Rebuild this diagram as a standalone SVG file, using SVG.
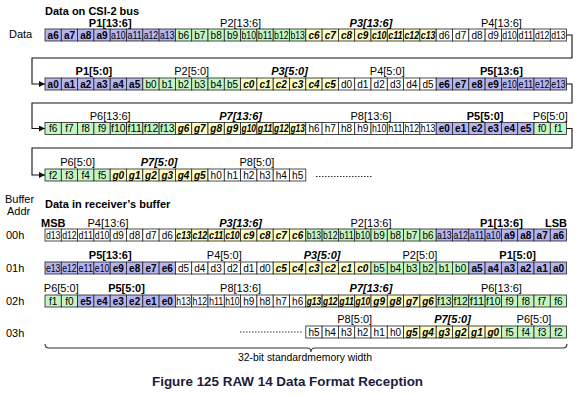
<svg xmlns="http://www.w3.org/2000/svg" width="583" height="395" viewBox="0 0 583 395">
<defs>
<style>
text{font-family:"Liberation Sans",Arial,sans-serif;fill:#000}
.cell rect{stroke:#222;stroke-width:0.8}
.B{fill:#b4b4f0}.G{fill:#c2f5c2}.Y{fill:#fbfbc2}.W{fill:#fff}
.cell text{font-size:10px;text-anchor:middle}
.b{font-weight:bold}.bi{font-weight:bold;font-style:italic}
.lab{font-size:11px;text-anchor:middle}
.hd{font-size:11px;font-weight:bold}
.side{font-size:11px}
.con{fill:none;stroke:#111;stroke-width:1.1}
.dot{fill:none;stroke:#333;stroke-width:1;stroke-dasharray:1.5 1.5}
</style>
<marker id="ah" viewBox="0 0 6 6" refX="6" refY="3" markerWidth="6" markerHeight="6" orient="auto" markerUnits="userSpaceOnUse"><path d="M0,0 L6,3 L0,6 Z" fill="#111"/></marker>
</defs>
<rect width="583" height="395" fill="#fff"/>

<text class="hd" x="45" y="14.5">Data on CSI-2 bus</text>
<text class="side" x="9" y="38">Data</text>

<g id="labels-row1">
<text class="lab b" x="110.2" y="27">P1[13:6]</text>
<text class="lab" x="240.6" y="27">P2[13:6]</text>
<text class="lab bi" x="371" y="27">P3[13:6]</text>
<text class="lab" x="501.4" y="27">P4[13:6]</text>
</g>
<g id="row1" class="cell" transform="translate(0,29)">
<rect class="B" x="45" y="0" width="16.3" height="12"/><text class="b" x="53.15" y="9.5">a6</text>
<rect class="B" x="61.3" y="0" width="16.3" height="12"/><text class="b" x="69.45" y="9.5">a7</text>
<rect class="B" x="77.6" y="0" width="16.3" height="12"/><text class="b" x="85.75" y="9.5">a8</text>
<rect class="B" x="93.9" y="0" width="16.3" height="12"/><text class="b" x="102.05" y="9.5">a9</text>
<rect class="B" x="110.2" y="0" width="16.3" height="12"/><text x="118.35" y="9.5" textLength="14.5" lengthAdjust="spacingAndGlyphs">a10</text>
<rect class="B" x="126.5" y="0" width="16.3" height="12"/><text x="134.65" y="9.5" textLength="14.5" lengthAdjust="spacingAndGlyphs">a11</text>
<rect class="B" x="142.8" y="0" width="16.3" height="12"/><text x="150.95" y="9.5" textLength="14.5" lengthAdjust="spacingAndGlyphs">a12</text>
<rect class="B" x="159.1" y="0" width="16.3" height="12"/><text x="167.25" y="9.5" textLength="14.5" lengthAdjust="spacingAndGlyphs">a13</text>
<rect class="G" x="175.4" y="0" width="16.3" height="12"/><text x="183.55" y="9.5">b6</text>
<rect class="G" x="191.7" y="0" width="16.3" height="12"/><text x="199.85" y="9.5">b7</text>
<rect class="G" x="208" y="0" width="16.3" height="12"/><text x="216.15" y="9.5">b8</text>
<rect class="G" x="224.3" y="0" width="16.3" height="12"/><text x="232.45" y="9.5">b9</text>
<rect class="G" x="240.6" y="0" width="16.3" height="12"/><text x="248.75" y="9.5" textLength="14.5" lengthAdjust="spacingAndGlyphs">b10</text>
<rect class="G" x="256.9" y="0" width="16.3" height="12"/><text x="265.05" y="9.5" textLength="14.5" lengthAdjust="spacingAndGlyphs">b11</text>
<rect class="G" x="273.2" y="0" width="16.3" height="12"/><text x="281.35" y="9.5" textLength="14.5" lengthAdjust="spacingAndGlyphs">b12</text>
<rect class="G" x="289.5" y="0" width="16.3" height="12"/><text x="297.65" y="9.5" textLength="14.5" lengthAdjust="spacingAndGlyphs">b13</text>
<rect class="Y" x="305.8" y="0" width="16.3" height="12"/><text class="bi" x="313.95" y="9.5">c6</text>
<rect class="Y" x="322.1" y="0" width="16.3" height="12"/><text class="bi" x="330.25" y="9.5">c7</text>
<rect class="Y" x="338.4" y="0" width="16.3" height="12"/><text class="bi" x="346.55" y="9.5">c8</text>
<rect class="Y" x="354.7" y="0" width="16.3" height="12"/><text class="bi" x="362.85" y="9.5">c9</text>
<rect class="Y" x="371" y="0" width="16.3" height="12"/><text class="bi" x="379.15" y="9.5" textLength="14.5" lengthAdjust="spacingAndGlyphs">c10</text>
<rect class="Y" x="387.3" y="0" width="16.3" height="12"/><text class="bi" x="395.45" y="9.5" textLength="14.5" lengthAdjust="spacingAndGlyphs">c11</text>
<rect class="Y" x="403.6" y="0" width="16.3" height="12"/><text class="bi" x="411.75" y="9.5" textLength="14.5" lengthAdjust="spacingAndGlyphs">c12</text>
<rect class="Y" x="419.9" y="0" width="16.3" height="12"/><text class="bi" x="428.05" y="9.5" textLength="14.5" lengthAdjust="spacingAndGlyphs">c13</text>
<rect class="W" x="436.2" y="0" width="16.3" height="12"/><text x="444.35" y="9.5">d6</text>
<rect class="W" x="452.5" y="0" width="16.3" height="12"/><text x="460.65" y="9.5">d7</text>
<rect class="W" x="468.8" y="0" width="16.3" height="12"/><text x="476.95" y="9.5">d8</text>
<rect class="W" x="485.1" y="0" width="16.3" height="12"/><text x="493.25" y="9.5">d9</text>
<rect class="W" x="501.4" y="0" width="16.3" height="12"/><text x="509.55" y="9.5" textLength="14.5" lengthAdjust="spacingAndGlyphs">d10</text>
<rect class="W" x="517.7" y="0" width="16.3" height="12"/><text x="525.85" y="9.5" textLength="14.5" lengthAdjust="spacingAndGlyphs">d11</text>
<rect class="W" x="534" y="0" width="16.3" height="12"/><text x="542.15" y="9.5" textLength="14.5" lengthAdjust="spacingAndGlyphs">d12</text>
<rect class="W" x="550.3" y="0" width="16.3" height="12"/><text x="558.45" y="9.5" textLength="14.5" lengthAdjust="spacingAndGlyphs">d13</text>
</g>

<g id="labels-row2">
<text class="lab b" x="93.9" y="75">P1[5:0]</text>
<text class="lab" x="191.7" y="75">P2[5:0]</text>
<text class="lab bi" x="289.5" y="75">P3[5:0]</text>
<text class="lab" x="387.3" y="75">P4[5:0]</text>
<text class="lab b" x="501.4" y="75">P5[13:6]</text>
</g>
<g id="row2" class="cell" transform="translate(0,78)">
<rect class="B" x="45" y="0" width="16.3" height="12"/><text class="b" x="53.15" y="9.5">a0</text>
<rect class="B" x="61.3" y="0" width="16.3" height="12"/><text class="b" x="69.45" y="9.5">a1</text>
<rect class="B" x="77.6" y="0" width="16.3" height="12"/><text class="b" x="85.75" y="9.5">a2</text>
<rect class="B" x="93.9" y="0" width="16.3" height="12"/><text class="b" x="102.05" y="9.5">a3</text>
<rect class="B" x="110.2" y="0" width="16.3" height="12"/><text class="b" x="118.35" y="9.5">a4</text>
<rect class="B" x="126.5" y="0" width="16.3" height="12"/><text class="b" x="134.65" y="9.5">a5</text>
<rect class="G" x="142.8" y="0" width="16.3" height="12"/><text x="150.95" y="9.5">b0</text>
<rect class="G" x="159.1" y="0" width="16.3" height="12"/><text x="167.25" y="9.5">b1</text>
<rect class="G" x="175.4" y="0" width="16.3" height="12"/><text x="183.55" y="9.5">b2</text>
<rect class="G" x="191.7" y="0" width="16.3" height="12"/><text x="199.85" y="9.5">b3</text>
<rect class="G" x="208" y="0" width="16.3" height="12"/><text x="216.15" y="9.5">b4</text>
<rect class="G" x="224.3" y="0" width="16.3" height="12"/><text x="232.45" y="9.5">b5</text>
<rect class="Y" x="240.6" y="0" width="16.3" height="12"/><text class="bi" x="248.75" y="9.5">c0</text>
<rect class="Y" x="256.9" y="0" width="16.3" height="12"/><text class="bi" x="265.05" y="9.5">c1</text>
<rect class="Y" x="273.2" y="0" width="16.3" height="12"/><text class="bi" x="281.35" y="9.5">c2</text>
<rect class="Y" x="289.5" y="0" width="16.3" height="12"/><text class="bi" x="297.65" y="9.5">c3</text>
<rect class="Y" x="305.8" y="0" width="16.3" height="12"/><text class="bi" x="313.95" y="9.5">c4</text>
<rect class="Y" x="322.1" y="0" width="16.3" height="12"/><text class="bi" x="330.25" y="9.5">c5</text>
<rect class="W" x="338.4" y="0" width="16.3" height="12"/><text x="346.55" y="9.5">d0</text>
<rect class="W" x="354.7" y="0" width="16.3" height="12"/><text x="362.85" y="9.5">d1</text>
<rect class="W" x="371" y="0" width="16.3" height="12"/><text x="379.15" y="9.5">d2</text>
<rect class="W" x="387.3" y="0" width="16.3" height="12"/><text x="395.45" y="9.5">d3</text>
<rect class="W" x="403.6" y="0" width="16.3" height="12"/><text x="411.75" y="9.5">d4</text>
<rect class="W" x="419.9" y="0" width="16.3" height="12"/><text x="428.05" y="9.5">d5</text>
<rect class="B" x="436.2" y="0" width="16.3" height="12"/><text class="b" x="444.35" y="9.5">e6</text>
<rect class="B" x="452.5" y="0" width="16.3" height="12"/><text class="b" x="460.65" y="9.5">e7</text>
<rect class="B" x="468.8" y="0" width="16.3" height="12"/><text class="b" x="476.95" y="9.5">e8</text>
<rect class="B" x="485.1" y="0" width="16.3" height="12"/><text class="b" x="493.25" y="9.5">e9</text>
<rect class="B" x="501.4" y="0" width="16.3" height="12"/><text x="509.55" y="9.5" textLength="14.5" lengthAdjust="spacingAndGlyphs">e10</text>
<rect class="B" x="517.7" y="0" width="16.3" height="12"/><text x="525.85" y="9.5" textLength="14.5" lengthAdjust="spacingAndGlyphs">e11</text>
<rect class="B" x="534" y="0" width="16.3" height="12"/><text x="542.15" y="9.5" textLength="14.5" lengthAdjust="spacingAndGlyphs">e12</text>
<rect class="B" x="550.3" y="0" width="16.3" height="12"/><text x="558.45" y="9.5" textLength="14.5" lengthAdjust="spacingAndGlyphs">e13</text>
</g>

<g id="labels-row3">
<text class="lab" x="110.2" y="119.5">P6[13:6]</text>
<text class="lab bi" x="240.6" y="119.5">P7[13:6]</text>
<text class="lab" x="371" y="119.5">P8[13:6]</text>
<text class="lab b" x="485.1" y="119.5">P5[5:0]</text>
<text class="lab" x="550.3" y="119.5">P6[5:0]</text>
</g>
<g id="row3" class="cell" transform="translate(0,122.5)">
<rect class="G" x="45" y="0" width="16.3" height="12"/><text x="53.15" y="9.5">f6</text>
<rect class="G" x="61.3" y="0" width="16.3" height="12"/><text x="69.45" y="9.5">f7</text>
<rect class="G" x="77.6" y="0" width="16.3" height="12"/><text x="85.75" y="9.5">f8</text>
<rect class="G" x="93.9" y="0" width="16.3" height="12"/><text x="102.05" y="9.5">f9</text>
<rect class="G" x="110.2" y="0" width="16.3" height="12"/><text x="118.35" y="9.5" textLength="14.5" lengthAdjust="spacingAndGlyphs">f10</text>
<rect class="G" x="126.5" y="0" width="16.3" height="12"/><text x="134.65" y="9.5" textLength="14.5" lengthAdjust="spacingAndGlyphs">f11</text>
<rect class="G" x="142.8" y="0" width="16.3" height="12"/><text x="150.95" y="9.5" textLength="14.5" lengthAdjust="spacingAndGlyphs">f12</text>
<rect class="G" x="159.1" y="0" width="16.3" height="12"/><text x="167.25" y="9.5" textLength="14.5" lengthAdjust="spacingAndGlyphs">f13</text>
<rect class="Y" x="175.4" y="0" width="16.3" height="12"/><text class="bi" x="183.55" y="9.5">g6</text>
<rect class="Y" x="191.7" y="0" width="16.3" height="12"/><text class="bi" x="199.85" y="9.5">g7</text>
<rect class="Y" x="208" y="0" width="16.3" height="12"/><text class="bi" x="216.15" y="9.5">g8</text>
<rect class="Y" x="224.3" y="0" width="16.3" height="12"/><text class="bi" x="232.45" y="9.5">g9</text>
<rect class="Y" x="240.6" y="0" width="16.3" height="12"/><text class="bi" x="248.75" y="9.5" textLength="14.5" lengthAdjust="spacingAndGlyphs">g10</text>
<rect class="Y" x="256.9" y="0" width="16.3" height="12"/><text class="bi" x="265.05" y="9.5" textLength="14.5" lengthAdjust="spacingAndGlyphs">g11</text>
<rect class="Y" x="273.2" y="0" width="16.3" height="12"/><text class="bi" x="281.35" y="9.5" textLength="14.5" lengthAdjust="spacingAndGlyphs">g12</text>
<rect class="Y" x="289.5" y="0" width="16.3" height="12"/><text class="bi" x="297.65" y="9.5" textLength="14.5" lengthAdjust="spacingAndGlyphs">g13</text>
<rect class="W" x="305.8" y="0" width="16.3" height="12"/><text x="313.95" y="9.5">h6</text>
<rect class="W" x="322.1" y="0" width="16.3" height="12"/><text x="330.25" y="9.5">h7</text>
<rect class="W" x="338.4" y="0" width="16.3" height="12"/><text x="346.55" y="9.5">h8</text>
<rect class="W" x="354.7" y="0" width="16.3" height="12"/><text x="362.85" y="9.5">h9</text>
<rect class="W" x="371" y="0" width="16.3" height="12"/><text x="379.15" y="9.5" textLength="14.5" lengthAdjust="spacingAndGlyphs">h10</text>
<rect class="W" x="387.3" y="0" width="16.3" height="12"/><text x="395.45" y="9.5" textLength="14.5" lengthAdjust="spacingAndGlyphs">h11</text>
<rect class="W" x="403.6" y="0" width="16.3" height="12"/><text x="411.75" y="9.5" textLength="14.5" lengthAdjust="spacingAndGlyphs">h12</text>
<rect class="W" x="419.9" y="0" width="16.3" height="12"/><text x="428.05" y="9.5" textLength="14.5" lengthAdjust="spacingAndGlyphs">h13</text>
<rect class="B" x="436.2" y="0" width="16.3" height="12"/><text class="b" x="444.35" y="9.5">e0</text>
<rect class="B" x="452.5" y="0" width="16.3" height="12"/><text class="b" x="460.65" y="9.5">e1</text>
<rect class="B" x="468.8" y="0" width="16.3" height="12"/><text class="b" x="476.95" y="9.5">e2</text>
<rect class="B" x="485.1" y="0" width="16.3" height="12"/><text class="b" x="493.25" y="9.5">e3</text>
<rect class="B" x="501.4" y="0" width="16.3" height="12"/><text class="b" x="509.55" y="9.5">e4</text>
<rect class="B" x="517.7" y="0" width="16.3" height="12"/><text class="b" x="525.85" y="9.5">e5</text>
<rect class="G" x="534" y="0" width="16.3" height="12"/><text x="542.15" y="9.5">f0</text>
<rect class="G" x="550.3" y="0" width="16.3" height="12"/><text x="558.45" y="9.5">f1</text>
</g>

<g id="labels-row4">
<text class="lab" x="77.6" y="166">P6[5:0]</text>
<text class="lab bi" x="159.1" y="166">P7[5:0]</text>
<text class="lab" x="256.9" y="166">P8[5:0]</text>
</g>
<g id="row4" class="cell" transform="translate(0,169)">
<rect class="G" x="45" y="0" width="16.3" height="12"/><text x="53.15" y="9.5">f2</text>
<rect class="G" x="61.3" y="0" width="16.3" height="12"/><text x="69.45" y="9.5">f3</text>
<rect class="G" x="77.6" y="0" width="16.3" height="12"/><text x="85.75" y="9.5">f4</text>
<rect class="G" x="93.9" y="0" width="16.3" height="12"/><text x="102.05" y="9.5">f5</text>
<rect class="Y" x="110.2" y="0" width="16.3" height="12"/><text class="bi" x="118.35" y="9.5">g0</text>
<rect class="Y" x="126.5" y="0" width="16.3" height="12"/><text class="bi" x="134.65" y="9.5">g1</text>
<rect class="Y" x="142.8" y="0" width="16.3" height="12"/><text class="bi" x="150.95" y="9.5">g2</text>
<rect class="Y" x="159.1" y="0" width="16.3" height="12"/><text class="bi" x="167.25" y="9.5">g3</text>
<rect class="Y" x="175.4" y="0" width="16.3" height="12"/><text class="bi" x="183.55" y="9.5">g4</text>
<rect class="Y" x="191.7" y="0" width="16.3" height="12"/><text class="bi" x="199.85" y="9.5">g5</text>
<rect class="W" x="208" y="0" width="16.3" height="12"/><text x="216.15" y="9.5">h0</text>
<rect class="W" x="224.3" y="0" width="16.3" height="12"/><text x="232.45" y="9.5">h1</text>
<rect class="W" x="240.6" y="0" width="16.3" height="12"/><text x="248.75" y="9.5">h2</text>
<rect class="W" x="256.9" y="0" width="16.3" height="12"/><text x="265.05" y="9.5">h3</text>
<rect class="W" x="273.2" y="0" width="16.3" height="12"/><text x="281.35" y="9.5">h4</text>
<rect class="W" x="289.5" y="0" width="16.3" height="12"/><text x="297.65" y="9.5">h5</text>
</g>

<g id="connectors">
<path class="con" d="M566.6,35 H572 V58 H32 V84 H45" marker-end="url(#ah)"/>
<path class="con" d="M566.6,84 H572 V103 H32 V128.5 H45" marker-end="url(#ah)"/>
<path class="con" d="M566.6,128.5 H572 V148 H32 V175 H45" marker-end="url(#ah)"/>
<path class="dot" d="M316,176.5 H372"/>
<path class="dot" d="M240,332 H302"/>
<path fill="none" stroke="#333" stroke-width="1.1" d="M45,344 Q45,348 49,348 L307,348 Q311,348 311,352 Q311,348 315,348 L563,348 Q567,348 567,344"/>
</g>

<text class="side" x="5" y="203">Buffer</text>
<text class="side" x="7" y="214.5">Addr</text>
<text class="hd" x="45" y="208">Data in receiver’s buffer</text>
<text class="hd" x="41" y="226.5">MSB</text>
<text class="hd" x="567" y="226.5" text-anchor="end">LSB</text>
<text class="side" x="6" y="238.5">00h</text>
<text class="side" x="6" y="271.5">01h</text>
<text class="side" x="6" y="304.5">02h</text>
<text class="side" x="6" y="336.5">03h</text>

<g id="labels-00h">
<text class="lab" x="108" y="226.5">P4[13:6]</text>
<text class="lab bi" x="240.6" y="226.5">P3[13:6]</text>
<text class="lab" x="371" y="226.5">P2[13:6]</text>
<text class="lab b" x="501.4" y="226.5">P1[13:6]</text>
</g>
<g id="buf00h" class="cell" transform="translate(0,229)">
<rect class="W" x="45" y="0" width="16.3" height="12"/><text x="53.15" y="9.5" textLength="14.5" lengthAdjust="spacingAndGlyphs">d13</text>
<rect class="W" x="61.3" y="0" width="16.3" height="12"/><text x="69.45" y="9.5" textLength="14.5" lengthAdjust="spacingAndGlyphs">d12</text>
<rect class="W" x="77.6" y="0" width="16.3" height="12"/><text x="85.75" y="9.5" textLength="14.5" lengthAdjust="spacingAndGlyphs">d11</text>
<rect class="W" x="93.9" y="0" width="16.3" height="12"/><text x="102.05" y="9.5" textLength="14.5" lengthAdjust="spacingAndGlyphs">d10</text>
<rect class="W" x="110.2" y="0" width="16.3" height="12"/><text x="118.35" y="9.5">d9</text>
<rect class="W" x="126.5" y="0" width="16.3" height="12"/><text x="134.65" y="9.5">d8</text>
<rect class="W" x="142.8" y="0" width="16.3" height="12"/><text x="150.95" y="9.5">d7</text>
<rect class="W" x="159.1" y="0" width="16.3" height="12"/><text x="167.25" y="9.5">d6</text>
<rect class="Y" x="175.4" y="0" width="16.3" height="12"/><text class="bi" x="183.55" y="9.5" textLength="14.5" lengthAdjust="spacingAndGlyphs">c13</text>
<rect class="Y" x="191.7" y="0" width="16.3" height="12"/><text class="bi" x="199.85" y="9.5" textLength="14.5" lengthAdjust="spacingAndGlyphs">c12</text>
<rect class="Y" x="208" y="0" width="16.3" height="12"/><text class="bi" x="216.15" y="9.5" textLength="14.5" lengthAdjust="spacingAndGlyphs">c11</text>
<rect class="Y" x="224.3" y="0" width="16.3" height="12"/><text class="bi" x="232.45" y="9.5" textLength="14.5" lengthAdjust="spacingAndGlyphs">c10</text>
<rect class="Y" x="240.6" y="0" width="16.3" height="12"/><text class="bi" x="248.75" y="9.5">c9</text>
<rect class="Y" x="256.9" y="0" width="16.3" height="12"/><text class="bi" x="265.05" y="9.5">c8</text>
<rect class="Y" x="273.2" y="0" width="16.3" height="12"/><text class="bi" x="281.35" y="9.5">c7</text>
<rect class="Y" x="289.5" y="0" width="16.3" height="12"/><text class="bi" x="297.65" y="9.5">c6</text>
<rect class="G" x="305.8" y="0" width="16.3" height="12"/><text x="313.95" y="9.5" textLength="14.5" lengthAdjust="spacingAndGlyphs">b13</text>
<rect class="G" x="322.1" y="0" width="16.3" height="12"/><text x="330.25" y="9.5" textLength="14.5" lengthAdjust="spacingAndGlyphs">b12</text>
<rect class="G" x="338.4" y="0" width="16.3" height="12"/><text x="346.55" y="9.5" textLength="14.5" lengthAdjust="spacingAndGlyphs">b11</text>
<rect class="G" x="354.7" y="0" width="16.3" height="12"/><text x="362.85" y="9.5" textLength="14.5" lengthAdjust="spacingAndGlyphs">b10</text>
<rect class="G" x="371" y="0" width="16.3" height="12"/><text x="379.15" y="9.5">b9</text>
<rect class="G" x="387.3" y="0" width="16.3" height="12"/><text x="395.45" y="9.5">b8</text>
<rect class="G" x="403.6" y="0" width="16.3" height="12"/><text x="411.75" y="9.5">b7</text>
<rect class="G" x="419.9" y="0" width="16.3" height="12"/><text x="428.05" y="9.5">b6</text>
<rect class="B" x="436.2" y="0" width="16.3" height="12"/><text x="444.35" y="9.5" textLength="14.5" lengthAdjust="spacingAndGlyphs">a13</text>
<rect class="B" x="452.5" y="0" width="16.3" height="12"/><text x="460.65" y="9.5" textLength="14.5" lengthAdjust="spacingAndGlyphs">a12</text>
<rect class="B" x="468.8" y="0" width="16.3" height="12"/><text x="476.95" y="9.5" textLength="14.5" lengthAdjust="spacingAndGlyphs">a11</text>
<rect class="B" x="485.1" y="0" width="16.3" height="12"/><text x="493.25" y="9.5" textLength="14.5" lengthAdjust="spacingAndGlyphs">a10</text>
<rect class="B" x="501.4" y="0" width="16.3" height="12"/><text class="b" x="509.55" y="9.5">a9</text>
<rect class="B" x="517.7" y="0" width="16.3" height="12"/><text class="b" x="525.85" y="9.5">a8</text>
<rect class="B" x="534" y="0" width="16.3" height="12"/><text class="b" x="542.15" y="9.5">a7</text>
<rect class="B" x="550.3" y="0" width="16.3" height="12"/><text class="b" x="558.45" y="9.5">a6</text>
</g>

<g id="labels-01h">
<text class="lab b" x="110.2" y="259">P5[13:6]</text>
<text class="lab" x="224.3" y="259">P4[5:0]</text>
<text class="lab bi" x="322.1" y="259">P3[5:0]</text>
<text class="lab" x="419.9" y="259">P2[5:0]</text>
<text class="lab b" x="517.7" y="259">P1[5:0]</text>
</g>
<g id="buf01h" class="cell" transform="translate(0,262)">
<rect class="B" x="45" y="0" width="16.3" height="12"/><text x="53.15" y="9.5" textLength="14.5" lengthAdjust="spacingAndGlyphs">e13</text>
<rect class="B" x="61.3" y="0" width="16.3" height="12"/><text x="69.45" y="9.5" textLength="14.5" lengthAdjust="spacingAndGlyphs">e12</text>
<rect class="B" x="77.6" y="0" width="16.3" height="12"/><text x="85.75" y="9.5" textLength="14.5" lengthAdjust="spacingAndGlyphs">e11</text>
<rect class="B" x="93.9" y="0" width="16.3" height="12"/><text x="102.05" y="9.5" textLength="14.5" lengthAdjust="spacingAndGlyphs">e10</text>
<rect class="B" x="110.2" y="0" width="16.3" height="12"/><text class="b" x="118.35" y="9.5">e9</text>
<rect class="B" x="126.5" y="0" width="16.3" height="12"/><text class="b" x="134.65" y="9.5">e8</text>
<rect class="B" x="142.8" y="0" width="16.3" height="12"/><text class="b" x="150.95" y="9.5">e7</text>
<rect class="B" x="159.1" y="0" width="16.3" height="12"/><text class="b" x="167.25" y="9.5">e6</text>
<rect class="W" x="175.4" y="0" width="16.3" height="12"/><text x="183.55" y="9.5">d5</text>
<rect class="W" x="191.7" y="0" width="16.3" height="12"/><text x="199.85" y="9.5">d4</text>
<rect class="W" x="208" y="0" width="16.3" height="12"/><text x="216.15" y="9.5">d3</text>
<rect class="W" x="224.3" y="0" width="16.3" height="12"/><text x="232.45" y="9.5">d2</text>
<rect class="W" x="240.6" y="0" width="16.3" height="12"/><text x="248.75" y="9.5">d1</text>
<rect class="W" x="256.9" y="0" width="16.3" height="12"/><text x="265.05" y="9.5">d0</text>
<rect class="Y" x="273.2" y="0" width="16.3" height="12"/><text class="bi" x="281.35" y="9.5">c5</text>
<rect class="Y" x="289.5" y="0" width="16.3" height="12"/><text class="bi" x="297.65" y="9.5">c4</text>
<rect class="Y" x="305.8" y="0" width="16.3" height="12"/><text class="bi" x="313.95" y="9.5">c3</text>
<rect class="Y" x="322.1" y="0" width="16.3" height="12"/><text class="bi" x="330.25" y="9.5">c2</text>
<rect class="Y" x="338.4" y="0" width="16.3" height="12"/><text class="bi" x="346.55" y="9.5">c1</text>
<rect class="Y" x="354.7" y="0" width="16.3" height="12"/><text class="bi" x="362.85" y="9.5">c0</text>
<rect class="G" x="371" y="0" width="16.3" height="12"/><text x="379.15" y="9.5">b5</text>
<rect class="G" x="387.3" y="0" width="16.3" height="12"/><text x="395.45" y="9.5">b4</text>
<rect class="G" x="403.6" y="0" width="16.3" height="12"/><text x="411.75" y="9.5">b3</text>
<rect class="G" x="419.9" y="0" width="16.3" height="12"/><text x="428.05" y="9.5">b2</text>
<rect class="G" x="436.2" y="0" width="16.3" height="12"/><text x="444.35" y="9.5">b1</text>
<rect class="G" x="452.5" y="0" width="16.3" height="12"/><text x="460.65" y="9.5">b0</text>
<rect class="B" x="468.8" y="0" width="16.3" height="12"/><text class="b" x="476.95" y="9.5">a5</text>
<rect class="B" x="485.1" y="0" width="16.3" height="12"/><text class="b" x="493.25" y="9.5">a4</text>
<rect class="B" x="501.4" y="0" width="16.3" height="12"/><text class="b" x="509.55" y="9.5">a3</text>
<rect class="B" x="517.7" y="0" width="16.3" height="12"/><text class="b" x="525.85" y="9.5">a2</text>
<rect class="B" x="534" y="0" width="16.3" height="12"/><text class="b" x="542.15" y="9.5">a1</text>
<rect class="B" x="550.3" y="0" width="16.3" height="12"/><text class="b" x="558.45" y="9.5">a0</text>
</g>

<g id="labels-02h">
<text class="lab" x="61.3" y="292">P6[5:0]</text>
<text class="lab b" x="126.5" y="292">P5[5:0]</text>
<text class="lab" x="240.6" y="292">P8[13:6]</text>
<text class="lab bi" x="371" y="292">P7[13:6]</text>
<text class="lab" x="501.4" y="292">P6[13:6]</text>
</g>
<g id="buf02h" class="cell" transform="translate(0,295)">
<rect class="G" x="45" y="0" width="16.3" height="12"/><text x="53.15" y="9.5">f1</text>
<rect class="G" x="61.3" y="0" width="16.3" height="12"/><text x="69.45" y="9.5">f0</text>
<rect class="B" x="77.6" y="0" width="16.3" height="12"/><text class="b" x="85.75" y="9.5">e5</text>
<rect class="B" x="93.9" y="0" width="16.3" height="12"/><text class="b" x="102.05" y="9.5">e4</text>
<rect class="B" x="110.2" y="0" width="16.3" height="12"/><text class="b" x="118.35" y="9.5">e3</text>
<rect class="B" x="126.5" y="0" width="16.3" height="12"/><text class="b" x="134.65" y="9.5">e2</text>
<rect class="B" x="142.8" y="0" width="16.3" height="12"/><text class="b" x="150.95" y="9.5">e1</text>
<rect class="B" x="159.1" y="0" width="16.3" height="12"/><text class="b" x="167.25" y="9.5">e0</text>
<rect class="W" x="175.4" y="0" width="16.3" height="12"/><text x="183.55" y="9.5" textLength="14.5" lengthAdjust="spacingAndGlyphs">h13</text>
<rect class="W" x="191.7" y="0" width="16.3" height="12"/><text x="199.85" y="9.5" textLength="14.5" lengthAdjust="spacingAndGlyphs">h12</text>
<rect class="W" x="208" y="0" width="16.3" height="12"/><text x="216.15" y="9.5" textLength="14.5" lengthAdjust="spacingAndGlyphs">h11</text>
<rect class="W" x="224.3" y="0" width="16.3" height="12"/><text x="232.45" y="9.5" textLength="14.5" lengthAdjust="spacingAndGlyphs">h10</text>
<rect class="W" x="240.6" y="0" width="16.3" height="12"/><text x="248.75" y="9.5">h9</text>
<rect class="W" x="256.9" y="0" width="16.3" height="12"/><text x="265.05" y="9.5">h8</text>
<rect class="W" x="273.2" y="0" width="16.3" height="12"/><text x="281.35" y="9.5">h7</text>
<rect class="W" x="289.5" y="0" width="16.3" height="12"/><text x="297.65" y="9.5">h6</text>
<rect class="Y" x="305.8" y="0" width="16.3" height="12"/><text class="bi" x="313.95" y="9.5" textLength="14.5" lengthAdjust="spacingAndGlyphs">g13</text>
<rect class="Y" x="322.1" y="0" width="16.3" height="12"/><text class="bi" x="330.25" y="9.5" textLength="14.5" lengthAdjust="spacingAndGlyphs">g12</text>
<rect class="Y" x="338.4" y="0" width="16.3" height="12"/><text class="bi" x="346.55" y="9.5" textLength="14.5" lengthAdjust="spacingAndGlyphs">g11</text>
<rect class="Y" x="354.7" y="0" width="16.3" height="12"/><text class="bi" x="362.85" y="9.5" textLength="14.5" lengthAdjust="spacingAndGlyphs">g10</text>
<rect class="Y" x="371" y="0" width="16.3" height="12"/><text class="bi" x="379.15" y="9.5">g9</text>
<rect class="Y" x="387.3" y="0" width="16.3" height="12"/><text class="bi" x="395.45" y="9.5">g8</text>
<rect class="Y" x="403.6" y="0" width="16.3" height="12"/><text class="bi" x="411.75" y="9.5">g7</text>
<rect class="Y" x="419.9" y="0" width="16.3" height="12"/><text class="bi" x="428.05" y="9.5">g6</text>
<rect class="G" x="436.2" y="0" width="16.3" height="12"/><text x="444.35" y="9.5" textLength="14.5" lengthAdjust="spacingAndGlyphs">f13</text>
<rect class="G" x="452.5" y="0" width="16.3" height="12"/><text x="460.65" y="9.5" textLength="14.5" lengthAdjust="spacingAndGlyphs">f12</text>
<rect class="G" x="468.8" y="0" width="16.3" height="12"/><text x="476.95" y="9.5" textLength="14.5" lengthAdjust="spacingAndGlyphs">f11</text>
<rect class="G" x="485.1" y="0" width="16.3" height="12"/><text x="493.25" y="9.5" textLength="14.5" lengthAdjust="spacingAndGlyphs">f10</text>
<rect class="G" x="501.4" y="0" width="16.3" height="12"/><text x="509.55" y="9.5">f9</text>
<rect class="G" x="517.7" y="0" width="16.3" height="12"/><text x="525.85" y="9.5">f8</text>
<rect class="G" x="534" y="0" width="16.3" height="12"/><text x="542.15" y="9.5">f7</text>
<rect class="G" x="550.3" y="0" width="16.3" height="12"/><text x="558.45" y="9.5">f6</text>
</g>

<g id="labels-03h">
<text class="lab" x="354.7" y="323">P8[5:0]</text>
<text class="lab bi" x="452.5" y="323">P7[5:0]</text>
<text class="lab" x="534" y="323">P6[5:0]</text>
</g>
<g id="buf03h" class="cell" transform="translate(0,326)">
<rect class="W" x="305.8" y="0" width="16.3" height="12"/><text x="313.95" y="9.5">h5</text>
<rect class="W" x="322.1" y="0" width="16.3" height="12"/><text x="330.25" y="9.5">h4</text>
<rect class="W" x="338.4" y="0" width="16.3" height="12"/><text x="346.55" y="9.5">h3</text>
<rect class="W" x="354.7" y="0" width="16.3" height="12"/><text x="362.85" y="9.5">h2</text>
<rect class="W" x="371" y="0" width="16.3" height="12"/><text x="379.15" y="9.5">h1</text>
<rect class="W" x="387.3" y="0" width="16.3" height="12"/><text x="395.45" y="9.5">h0</text>
<rect class="Y" x="403.6" y="0" width="16.3" height="12"/><text class="bi" x="411.75" y="9.5">g5</text>
<rect class="Y" x="419.9" y="0" width="16.3" height="12"/><text class="bi" x="428.05" y="9.5">g4</text>
<rect class="Y" x="436.2" y="0" width="16.3" height="12"/><text class="bi" x="444.35" y="9.5">g3</text>
<rect class="Y" x="452.5" y="0" width="16.3" height="12"/><text class="bi" x="460.65" y="9.5">g2</text>
<rect class="Y" x="468.8" y="0" width="16.3" height="12"/><text class="bi" x="476.95" y="9.5">g1</text>
<rect class="Y" x="485.1" y="0" width="16.3" height="12"/><text class="bi" x="493.25" y="9.5">g0</text>
<rect class="G" x="501.4" y="0" width="16.3" height="12"/><text x="509.55" y="9.5">f5</text>
<rect class="G" x="517.7" y="0" width="16.3" height="12"/><text x="525.85" y="9.5">f4</text>
<rect class="G" x="534" y="0" width="16.3" height="12"/><text x="542.15" y="9.5">f3</text>
<rect class="G" x="550.3" y="0" width="16.3" height="12"/><text x="558.45" y="9.5">f2</text>
</g>

<text x="238" y="361" font-size="10" textLength="134" lengthAdjust="spacingAndGlyphs">32-bit standardmemory width</text>
<text x="152" y="385.5" font-size="13" font-weight="bold" fill="#1c1c3c" style="fill:#1c1c3c" textLength="271" lengthAdjust="spacingAndGlyphs">Figure 125 RAW 14 Data Format Reception</text>
</svg>
